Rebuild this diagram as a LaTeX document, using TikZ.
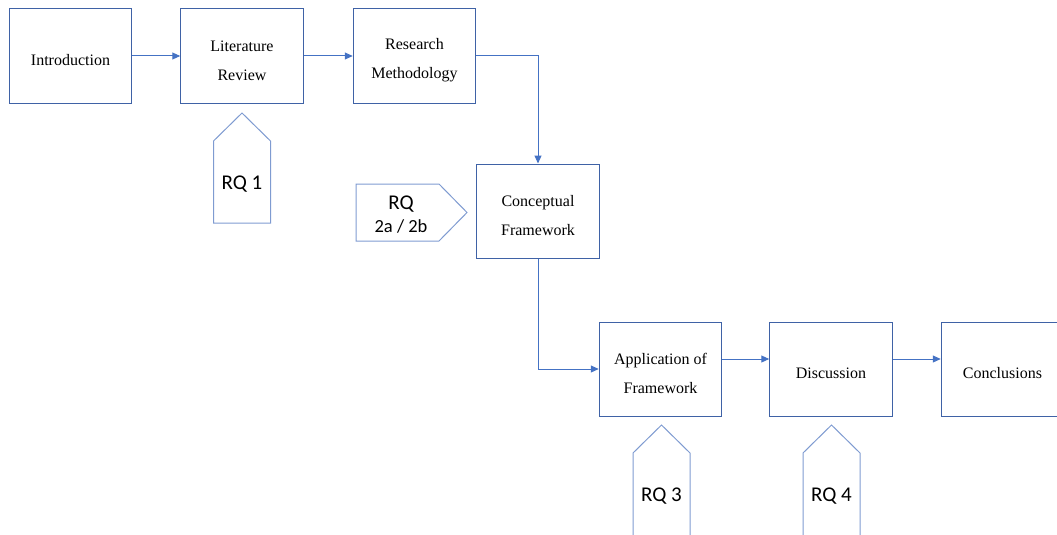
\documentclass[tikz,border=0pt]{standalone}
\usepackage{fontspec}
\setmainfont{Liberation Serif}
\newfontfamily\rqfont{Carlito}
\usepackage{tikz}
\usetikzlibrary{shapes, arrows.meta}
\usetikzlibrary{positioning}
\definecolor{boxblue}{HTML}{3F62A6}
\definecolor{lineblue}{HTML}{4472C4}
\definecolor{rqblue}{HTML}{7F9BD1}
\newcommand{\topstrut}{\rule{0pt}{20pt}}
\tikzstyle{box} = [rectangle, minimum width = 122.5, minimum height = 94,
  draw = boxblue, line width = 1, text centered, align = center,
  font = \fontsize{16}{29}\selectfont]
\tikzstyle{rq} = [draw = rqblue, line width = 1]
\tikzstyle{rqtext} = [
  align = center,
  font = \rqfont\fontsize{21}{23}\selectfont
]
\tikzstyle{link} = [->, draw = lineblue, line width = 1]

\begin{document}
\begin{tikzpicture}[node distance = 0, x = 1pt, y = -1pt,
    >={Triangle[length = 8pt, width = 7pt]}]
      \useasboundingbox (0, 0) rectangle (1057, 535);
      % row 0
      \node [box] (intro) at (70.5, 56) {\topstrut Introduction};
      \node [box, right of = intro, xshift = 171.5] (lit)
        {\topstrut Literature\\Review};
      \node [box, right of = lit, xshift = 172.5] (res)
        {\topstrut Research\\Methodology};
      % row 1
      \node [box, right of = res, xshift = 123.5, yshift = -155] (concept)
        {\topstrut Conceptual\\Framework};
      % row 2
      \node [box, right of = concept, xshift = 122.5, yshift = -158] (app)
        {\topstrut Application of\\Framework};
      \node [box, right of = app, xshift = 170.5] (disc) {\topstrut Discussion};
      \node [box, right of = disc, xshift = 171.5] (concl)
        {\topstrut Conclusions};

      % research questions
      \draw [rq] (213.5, 223) -- (213.5, 141) -- (242, 113) -- (270.5, 141) --
      (270.5, 223) -- cycle;
      \node [rqtext] (rq-1) at (242, 184) {RQ 1};
      \draw [rq] (356, 184) -- (439, 184) -- (467, 212.5) -- (439, 241) --
      (356, 241) -- cycle;
      \node [rqtext] (rq-2) at (401, 215)
        {RQ\\{\fontsize{18.5}{23}\selectfont 2a / 2b}};
      \draw [rq] (633, 545) -- (633, 453) -- (661.5, 425) -- (690, 453) --
      (690, 545);
      \node [rqtext] (rq-3) at (661.5, 496) {RQ 3};
      \draw [rq] (803, 545) -- (803, 453) -- (831.5, 425) -- (860, 453) --
      (860, 545);
      \node [rqtext] (rq-4) at (831.5, 496) {RQ 4};

      % row 0
      \draw [link] (intro) -- (lit);
      \draw [link] (lit) -- (res);
      \draw [link] (res.east) -| (concept.north);
      % row 1
      \draw [link] (concept.south) |- (app.west);
      % row 2
      \draw [link] ([yshift = 10] app.east) -- ([yshift = 10] disc.west);
      \draw [link] ([yshift = 10] disc.east) -- ([yshift = 10] concl.west);
    \end{tikzpicture}
\end{document}
